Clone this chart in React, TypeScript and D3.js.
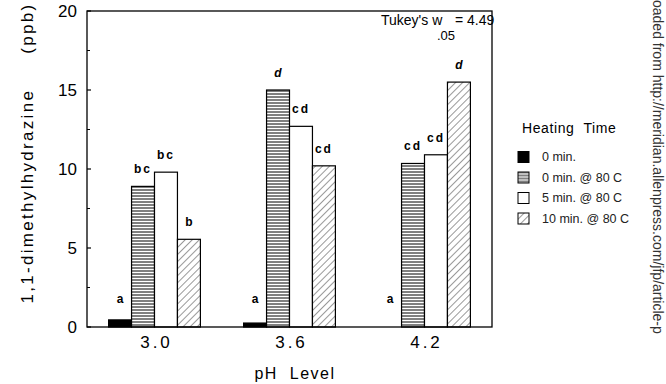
import React from 'react'
import * as d3 from 'd3'

const phLevels = ['3.0', '3.6', '4.2']
const heatingTimes = ['0 min.', '0 min. @ 80 C', '5 min. @ 80 C', '10 min. @ 80 C']

// ppb, one array per heating time (order = phLevels)
const noHeat = [0.45, 0.25, 0]
const heat0 = [8.9, 15.0, 10.35]
const heat5 = [9.8, 12.7, 10.9]
const heat10 = [5.55, 10.2, 15.5]

// Tukey groupings written above each bar
const lettersNoHeat = ['a', 'a', 'a']
const letters0 = ['bc', 'd', 'cd']
const letters5 = ['bc', 'cd', 'cd']
const letters10 = ['b', 'cd', 'd']

const yTicks = [0, 5, 10, 15, 20]
const yMinorTicks = [2.5, 7.5, 12.5, 17.5]

const W = 666
const H = 384
const left = 87
const right = 492
const top = 11
const bottom = 327

const fills = ['#000', 'url(#stripes)', '#fff', 'url(#hatch)']

export default function App() {
  const series = [noHeat, heat0, heat5, heat10]
  const letters = [lettersNoHeat, letters0, letters5, letters10]

  const x = d3.scaleBand().domain(phLevels).range([left, right]).paddingInner(0.32).paddingOuter(0.16)
  const xIn = d3.scaleBand().domain(heatingTimes).range([0, x.bandwidth()])
  const y = d3.scaleLinear().domain([0, 20]).range([bottom, top])

  const font = '"Liberation Sans", Arial, sans-serif'

  return (
    <svg width={W} height={H} style={{ position: 'absolute', left: 0, top: 0, background: '#fff' }} fontFamily={font}>
      <defs>
        <pattern id="stripes" width="6" height="3" patternUnits="userSpaceOnUse">
          <rect width="6" height="3" fill="#fff" />
          <line x1="0" y1="1" x2="6" y2="1" stroke="#000" strokeWidth="1" />
        </pattern>
        <pattern id="hatch" width="5" height="5" patternUnits="userSpaceOnUse" patternTransform="rotate(45)">
          <rect width="5" height="5" fill="#fff" />
          <line x1="0" y1="0" x2="0" y2="5" stroke="#000" strokeWidth="0.8" />
        </pattern>
      </defs>

      {/* bars */}
      {phLevels.map((ph, i) =>
        heatingTimes.map((ht, j) => {
          const v = series[j][i]
          const bx = (x(ph) as number) + (xIn(ht) as number)
          const bw = xIn.bandwidth()
          const ly = Math.min(y(v) - 13, y(1.5))
          return (
            <g key={ph + ht}>
              {v > 0 && (
                <rect x={bx} y={y(v)} width={bw} height={bottom - y(v)} fill={fills[j]} stroke="#000" strokeWidth={1.2} />
              )}
              <text
                x={bx + bw / 2}
                y={ly}
                textAnchor="middle"
                fontSize={12}
                fontWeight="bold"
                letterSpacing={letters[j][i].length > 1 ? 2 : 0}
                fontStyle={letters[j][i] === 'd' ? 'italic' : 'normal'}
              >
                {letters[j][i]}
              </text>
            </g>
          )
        })
      )}

      {/* frame */}
      <rect x={left} y={top} width={right - left} height={bottom - top} fill="none" stroke="#000" strokeWidth={1.3} />

      {/* y axis */}
      {yTicks.map((t) => (
        <g key={t}>
          <line x1={left} x2={left + 4} y1={y(t)} y2={y(t)} stroke="#000" strokeWidth={1.2} />
          <text x={77} y={y(t)} dy="0.36em" textAnchor="end" fontSize={17}>
            {t}
          </text>
        </g>
      ))}
      {yMinorTicks.map((t) => (
        <line key={t} x1={left} x2={left + 3} y1={y(t)} y2={y(t)} stroke="#000" strokeWidth={1} />
      ))}

      {/* x tick labels */}
      {phLevels.map((ph) => (
        <text key={ph} x={(x(ph) as number) + x.bandwidth() / 2 + 2} y={348} textAnchor="middle" fontSize={17} letterSpacing={3}>
          {ph}
        </text>
      ))}

      {/* axis titles */}
      <text x={295} y={379} textAnchor="middle" fontSize={16} letterSpacing={1.5}>
        pH{'\u00a0\u00a0'}Level
      </text>
      <text transform="translate(33,153) rotate(-90)" textAnchor="middle" fontSize={17} letterSpacing={2.3}>
        1,1-dimethylhydrazine{'\u00a0\u00a0\u00a0\u00a0\u00a0'}(ppb)
      </text>

      {/* Tukey note */}
      <text x={381} y={25} fontSize={14}>
        Tukey's w
      </text>
      <text x={437} y={40} fontSize={13}>
        .05
      </text>
      <text x={455} y={25} fontSize={14}>
        = 4.49
      </text>

      {/* legend */}
      <text x={522} y={133} fontSize={14} letterSpacing={0.6}>
        Heating{'\u00a0\u00a0'}Time
      </text>
      {heatingTimes.map((ht, j) => (
        <g key={ht} transform={`translate(518,${157 + j * 20.5})`}>
          <rect x={0} y={-5.5} width={11} height={11} fill={fills[j]} stroke="#000" strokeWidth={1} />
          <text x={24} y={0} dy="0.35em" fontSize={12.5} fill="#222">
            {ht}
          </text>
        </g>
      ))}

      {/* scan watermark */}
      <text transform="translate(653,0) rotate(90)" fontSize={14} fill="#333">
        oaded from http://meridian.allenpress.com/jfp/article-p
      </text>
    </svg>
  )
}
